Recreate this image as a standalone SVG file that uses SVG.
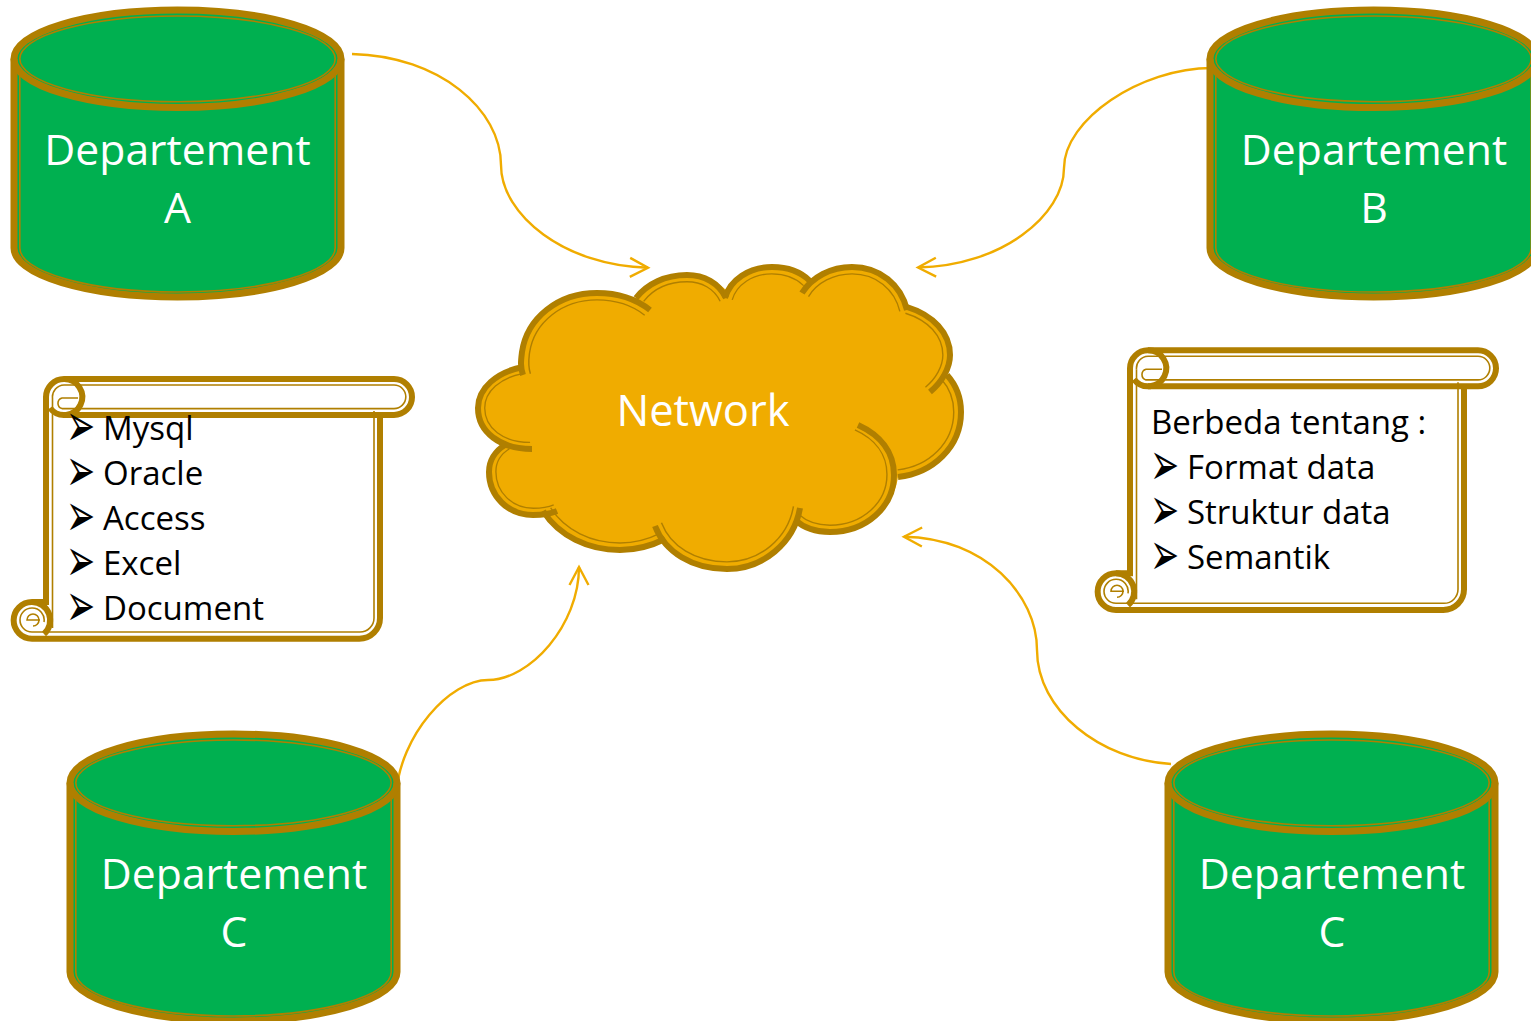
<svg xmlns="http://www.w3.org/2000/svg" width="1531" height="1021" viewBox="0 0 1531 1021">
<style>
text{font-family:"Open Sans","Noto Sans","Liberation Sans",sans-serif}
.lbl{fill:#fff;font-size:42.7px;text-anchor:middle}
.item{fill:#000;font-size:33px}
.blt{fill:#000;font-family:"DejaVu Sans",sans-serif;font-size:29px}
.thick{fill:none;stroke:#b07f00;stroke-width:7}
.thin{fill:none;stroke:#b07f00;stroke-width:1.6}
.cl{fill:none;stroke:#b07f00;stroke-width:6}
.conn{fill:none;stroke:#f0ac00;stroke-width:2.4;marker-end:url(#open)}
</style>
<defs>
<marker id="open" markerUnits="userSpaceOnUse" markerWidth="26" markerHeight="26" viewBox="-22 -13 26 26" refX="0" refY="0" orient="auto"><path d="M-18,-9.5 L0,0 L-18,9.5" fill="none" stroke="#f0ac00" stroke-width="2.4"/></marker>
<g id="cyl">
<path d="M14,58.75 A163.5,48.75 0 0 1 341,58.75 V248 A163.5,49 0 0 1 14,248 Z" fill="#00b050"/>
<path class="thick" d="M14,58.75 A163.5,48.75 0 0 1 341,58.75 V248 A163.5,49 0 0 1 14,248 Z"/>
<path class="thick" d="M14,58.75 A163.5,48.75 0 0 0 341,58.75"/>
<ellipse class="thin" cx="177.5" cy="58.85" rx="157.7" ry="42.85"/>
<path class="thin" d="M19.8,76 V248 A157.7,44 0 0 0 335.2,248 V76"/>
</g>
<g id="scroll">
<path fill="#fff" d="M380,415 V618 A20.7,20.7 0 0 1 359.3,638.7 H32 A18.3,18.3 0 0 1 32,602 H46 V397 A18,18 0 0 1 64,379 H394 A18,18 0 0 1 394,415 Z"/>
<path class="cl" d="M380,415 V618 A20.7,20.7 0 0 1 359.3,638.7 H32 A18.3,18.3 0 0 1 32,602 H46 V397 A18,18 0 0 1 64,379 H394 A18,18 0 0 1 394,415 H64"/>
<path class="cl" d="M64,379 A18,18 0 1 1 50,408"/>
<path class="cl" d="M32,602 A18.3,18.3 0 0 1 44,634"/>
<path class="thin" d="M52.5,398 A12,12 0 0 1 64,385 H394 A11.8,11.8 0 0 1 394,408.6 H62 A5.5,5.5 0 0 1 62,398 H78"/>
<path class="thin" d="M374,411 V618 A14,14 0 0 1 360,632 H32 A12,12 0 0 1 32,608 A12,12 0 0 1 44,622"/>
<path class="thin" d="M52.5,398 V628 M40,620 H27 A6,6 0 1 1 33,626"/>
</g>
<path id="l1" d="M523,375 C520,366 521,360 522,352 C527,318 558,293 597,293 C620,293 636,299 650,310"/>
<path id="l2" d="M636,298 C647,284 665,275 687,275 C704,275 719,283 726,298"/>
<path id="l3" d="M725,298 C730,280 749,267 772,267 C788,267 801,272 810,281"/>
<path id="l4" d="M802,293 C812,277 831,267 852,267 C880,267 901,285 907,310"/>
<path id="l5" d="M907,307 C933,315 950,333 950,355 C950,368 942,382 930,392"/>
<path id="l6" d="M947,375 C956,385 961,398 961,412 C961,447 933,473 898,477"/>
<path id="l7" d="M858,425 C880,435 894,452 894,475 C894,507 866,532 830,532 C816,532 804,528 795,520"/>
<path id="l8" d="M800,508 C794,543 763,569 727,569 C692,569 665,552 655,526"/>
<path id="l9" d="M665,539 C651,546 636,550 620,550 C588,550 559,536 543,511"/>
<path id="l10" d="M557,511 C550,514 541,515 533,515 C508,515 489,496 489,472 C489,461 495,451 505,445"/>
<path id="l11" d="M532,449 C500,449 478,432 478,408 C478,388 497,372 523,367"/>
</defs>
<rect width="1531" height="1021" fill="#fff"/>
<g id="connectors">
<path class="conn" d="M352,54 C440,56 501,110 501,165 C501,215 565,266 648,267.7"/>
<path class="conn" d="M1212,68 C1140,68 1064,120 1064,168 C1064,215 1002,266 918,267.5"/>
<path class="conn" d="M396,795 C400,735 450,680 488,680 C530,680 579,625 579,567"/>
<path class="conn" d="M1171,764 C1100,760 1037,710 1037,650 C1037,595 985,538 904,536.7"/>
</g>
<g id="dept-a"><use href="#cyl"/><text class="lbl" x="177.5" y="165">Departement</text><text class="lbl" x="177.5" y="223">A</text></g>
<g id="dept-b"><use href="#cyl" x="1196"/><text class="lbl" x="1374" y="165">Departement</text><text class="lbl" x="1374" y="223">B</text></g>
<g id="dept-c"><use href="#cyl" x="56" y="724"/><text class="lbl" x="234" y="889">Departement</text><text class="lbl" x="234" y="947">C</text></g>
<g id="dept-d"><use href="#cyl" x="1154" y="724"/><text class="lbl" x="1332" y="889">Departement</text><text class="lbl" x="1332" y="947">C</text></g>
<g id="network">
<path fill="#f0ac00" d="M523,375 C520,366 521,360 522,352 C527,318 558,293 597,293 C610,293 625,295 636,298 C647,284 665,275 687,275 C704,275 719,283 726,290 C735,278 749,267 772,267 C788,267 801,272 810,281 C820,272 831,267 852,267 C880,267 901,285 907,307 C933,315 950,333 950,355 C950,362 949,368 947,375 C956,385 961,398 961,412 C961,447 933,473 898,477 C894,507 866,532 830,532 C816,532 806,528 798,522 C785,550 763,569 727,569 C700,569 675,556 661,540 C651,546 636,550 620,550 C588,550 559,536 545,515 C541,515 537,515 533,515 C508,515 489,496 489,472 C489,461 495,451 505,445 C488,436 478,423 478,408 C478,388 497,372 523,367 Z"/>
<g class="cl">
<use href="#l1"/><use href="#l2"/><use href="#l3"/><use href="#l4"/><use href="#l5"/><use href="#l6"/><use href="#l7"/><use href="#l8"/><use href="#l9"/><use href="#l10"/><use href="#l11"/>
</g>
<g class="thin">
<use href="#l1" transform="translate(597,362) scale(.9) translate(-597,-362)"/>
<use href="#l2" transform="translate(687,320) scale(.85) translate(-687,-320)"/>
<use href="#l3" transform="translate(770,310) scale(.84) translate(-770,-310)"/>
<use href="#l4" transform="translate(852,320) scale(.87) translate(-852,-320)"/>
<use href="#l5" transform="translate(895,355) scale(.87) translate(-895,-355)"/>
<use href="#l6" transform="translate(895,412) scale(.89) translate(-895,-412)"/>
<use href="#l7" transform="translate(830,470) scale(.89) translate(-830,-470)"/>
<use href="#l8" transform="translate(727,490) scale(.91) translate(-727,-490)"/>
<use href="#l9" transform="translate(620,480) scale(.9) translate(-620,-480)"/>
<use href="#l10" transform="translate(535,470) scale(.85) translate(-535,-470)"/>
<use href="#l11" transform="translate(520,408) scale(.84) translate(-520,-408)"/>
</g>
<text class="lbl" x="703" y="426" style="font-size:43.5px">Network</text>
</g>
<g id="list-left"><use href="#scroll"/>
<text class="blt" transform="translate(66,0) scale(1.2,2.1)"><tspan x="0" y="212.38">➢</tspan><tspan x="0" y="233.81">➢</tspan><tspan x="0" y="255.24">➢</tspan><tspan x="0" y="276.67">➢</tspan><tspan x="0" y="298.1">➢</tspan></text>
<text class="item" x="103" y="440">Mysql</text>
<text class="item" x="103" y="485">Oracle</text>
<text class="item" x="103" y="530">Access</text>
<text class="item" x="103" y="575">Excel</text>
<text class="item" x="103" y="620">Document</text>
</g>
<g id="list-right"><use href="#scroll" x="1084" y="-28.7"/>
<text class="item" x="1151" y="434">Berbeda tentang :</text>
<text class="blt" transform="translate(1150,0) scale(1.2,2.1)"><tspan x="0" y="230.95">➢</tspan><tspan x="0" y="252.38">➢</tspan><tspan x="0" y="273.81">➢</tspan></text>
<text class="item" x="1187" y="479">Format data</text>
<text class="item" x="1187" y="524">Struktur data</text>
<text class="item" x="1187" y="569">Semantik</text>
</g>
</svg>
